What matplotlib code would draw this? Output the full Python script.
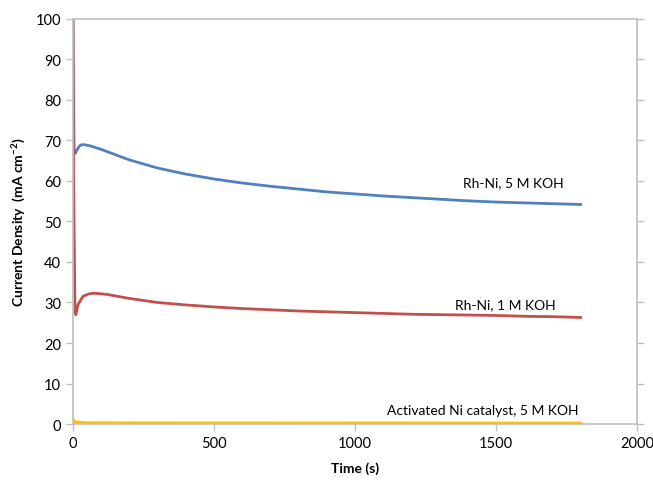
import matplotlib.pyplot as plt

plt.rcParams['font.family'] = ['Lato', 'DejaVu Sans']

# Rh-Ni, 5 M KOH
t_5m = [0, 1, 4, 8, 15, 25, 35, 60, 100, 150, 200, 300, 400, 500, 600, 700, 800,
        900, 1000, 1100, 1200, 1300, 1400, 1500, 1600, 1700, 1800]
j_5m = [100, 85, 67, 66.8, 67.8, 68.8, 69.0, 68.7, 67.8, 66.5, 65.2, 63.2, 61.7,
        60.5, 59.5, 58.7, 58.0, 57.3, 56.8, 56.3, 55.9, 55.5, 55.1, 54.8, 54.6, 54.4, 54.2]

# Rh-Ni, 1 M KOH
t_1m = [0, 2, 7, 10, 18, 35, 55, 75, 120, 200, 300, 400, 500, 600, 700, 800, 900,
        1000, 1100, 1200, 1300, 1400, 1500, 1600, 1700, 1800]
j_1m = [100, 60, 27.5, 27.0, 29.5, 31.5, 32.1, 32.3, 32.0, 31.0, 30.0, 29.4, 28.9,
        28.5, 28.2, 27.9, 27.7, 27.5, 27.3, 27.1, 27.0, 26.9, 26.8, 26.6, 26.5, 26.3]

# Activated Ni catalyst, 5 M KOH
t_ni = [0, 5, 20, 50, 200, 1800]
j_ni = [1.2, 0.6, 0.4, 0.3, 0.25, 0.2]

fig = plt.figure(figsize=(6.53, 4.85), dpi=100)
ax = fig.add_axes([0.1118, 0.1237, 0.8637, 0.8351])

ax.plot(t_ni, j_ni, color='#FFC000', lw=2.2)
ax.plot(t_5m, j_5m, color='#4F81BD', lw=2.0)
ax.plot(t_1m, j_1m, color='#C0504D', lw=2.0)

ax.set_xlim(0, 2000)
ax.set_ylim(0, 100)
ax.set_xticks(range(0, 2001, 500))
ax.set_yticks(range(0, 101, 10))

for s in ax.spines.values():
    s.set_color('#BFBFBF')
    s.set_linewidth(1.2)
ax.tick_params(axis='both', colors='#BFBFBF', labelcolor='black', labelsize=10.5,
               length=5, width=1.0)
ax.tick_params(axis='y', right=True)

ax.set_xlabel('Time (s)', fontsize=10, fontweight='bold', labelpad=8)
ax.set_ylabel('Current Density  (mA cm$^{\\mathregular{-2}}$)', fontsize=10,
              fontweight='bold', labelpad=6)

ax.text(1560, 59.8, 'Rh-Ni, 5 M KOH', ha='center', va='center', fontsize=10)
ax.text(1532, 29.6, 'Rh-Ni, 1 M KOH', ha='center', va='center', fontsize=10)
ax.text(1454, 3.4, 'Activated Ni catalyst, 5 M KOH', ha='center', va='center', fontsize=10)

fig.savefig('out.png', dpi=100)
